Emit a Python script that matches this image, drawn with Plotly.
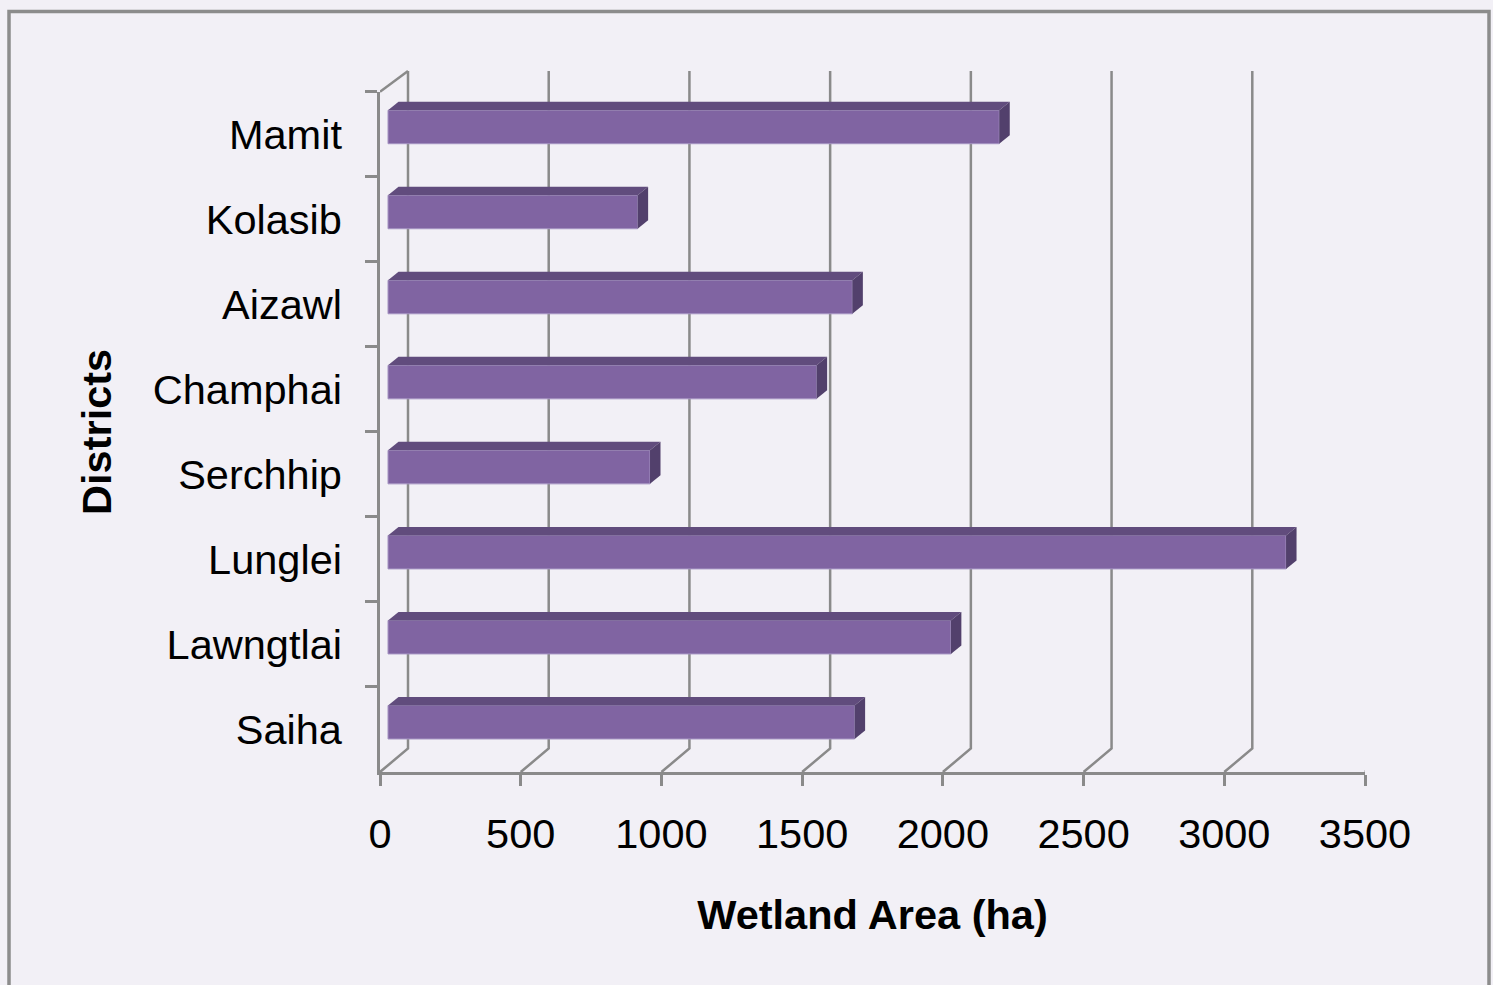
import plotly.graph_objects as go

# ---- data ----
districts = ["Mamit", "Kolasib", "Aizawl", "Champhai", "Serchhip", "Lunglei", "Lawngtlai", "Saiha"]
wetland_area = [2172, 887, 1650, 1523, 931, 3191, 2000, 1658]
x_ticks = [0, 500, 1000, 1500, 2000, 2500, 3000, 3500]
x_max = 3500

# ---- geometry / style ----
W, H = 1493, 985
L, R, T, B = 380, 128, 71, 213
plot_w = W - L - R
plot_h = H - T - B
px_per_unit = plot_w / x_max
front_top_px = 91.7
y_dom_top = (H - B - front_top_px) / plot_h

bar_shift_px = 8                 # bars sit a little behind the front plane
depth_dx, depth_dy = 10.5, 8.5   # bar 3-D depth
back_dx, back_dy = 28, 23.5      # back wall offset
face_top, face_bot = 24.0, -9.5  # front face extent (px, relative to category centre, up = +)
band_px = (H - B - front_top_px) / len(districts)

BAR = "#8064A2"
TOP = "#614C7D"
SIDE = "#52406C"
GRID = "#8A8A8A"
BG = "#F2F0F6"
FONT = "Liberation Sans, Arial, sans-serif"
FS = 41.5

fig = go.Figure()
fig.add_trace(go.Bar(
    y=districts, x=wetland_area, orientation="h",
    xaxis="x2", yaxis="y",
    marker=dict(color=BAR, line=dict(color="#A593C2", width=1)),
    width=(face_top - face_bot) / band_px,
    offset=-face_top / band_px,
    hoverinfo="x+y",
))

shapes = []
# back-wall gridlines with floor diagonals
for t in x_ticks:
    shapes.append(dict(
        type="path", layer="below", xref="x", xsizemode="pixel", xanchor=t,
        yref="paper", ysizemode="pixel", yanchor=0,
        path=f"M0,0 L{back_dx},{back_dy} L{back_dx},{plot_h}",
        line=dict(color=GRID, width=2.5), fillcolor="rgba(0,0,0,0)",
    ))
# top-left wall diagonal
shapes.append(dict(
    type="path", layer="below", xref="x", xsizemode="pixel", xanchor=0,
    yref="paper", ysizemode="pixel", yanchor=y_dom_top,
    path=f"M0,0 L{back_dx},{front_top_px - T}",
    line=dict(color=GRID, width=2.5), fillcolor="rgba(0,0,0,0)",
))

dxu = depth_dx / px_per_unit
for d, v in zip(districts, wetland_area):
    # top face
    shapes.append(dict(
        type="path", xref="x2", xsizemode="scaled", yref="y", ysizemode="pixel", yanchor=d,
        path=f"M0,{face_top} L{v},{face_top} L{v + dxu},{face_top + depth_dy} L{dxu},{face_top + depth_dy} Z",
        fillcolor=TOP, line=dict(width=0),
    ))
    # side face
    shapes.append(dict(
        type="path", xref="x2", xsizemode="pixel", xanchor=v, yref="y", ysizemode="pixel", yanchor=d,
        path=f"M0,{face_bot} L{depth_dx},{face_bot + depth_dy} L{depth_dx},{face_top + depth_dy} L0,{face_top} Z",
        fillcolor=SIDE, line=dict(width=0),
    ))

# outer chart border
shapes.append(dict(
    type="rect", xref="paper", yref="paper",
    x0=(9 - L) / plot_w, x1=(1489 - L) / plot_w,
    y0=(H - B - 1010) / plot_h, y1=(H - B - 11.5) / plot_h,
    line=dict(color="#8C8C8C", width=3.5), fillcolor="rgba(0,0,0,0)",
))

shift_units = bar_shift_px / px_per_unit
fig.update_layout(
    width=W, height=H,
    margin=dict(l=L, r=R, t=T, b=B, autoexpand=False),
    paper_bgcolor=BG, plot_bgcolor=BG,
    showlegend=False,
    font=dict(family=FONT, size=FS, color="#000000"),
    shapes=shapes,
    xaxis=dict(
        domain=[0, 1], anchor="y", range=[0, x_max],
        tickvals=x_ticks, ticks="outside", ticklen=11, tickwidth=2.5, tickcolor=GRID,
        showline=True, linecolor=GRID, linewidth=2.5, showgrid=False, zeroline=False,
        tickfont=dict(family=FONT, size=FS, color="#000000"),
        ticklabelstandoff=12,
        title=dict(text="Wetland Area (ha)", standoff=45,
                   font=dict(family=FONT, size=FS, color="#000000", weight="bold")),
    ),
    xaxis2=dict(
        overlaying="x", anchor="y", range=[-shift_units, x_max - shift_units],
        visible=False, showgrid=False, zeroline=False,
    ),
    yaxis=dict(
        domain=[0, y_dom_top], type="category",
        categoryorder="array", categoryarray=districts,
        range=[len(districts) - 0.5, -0.5],
        tickson="boundaries", ticks="outside", ticklen=12, tickwidth=2.5, tickcolor=GRID,
        showline=True, linecolor=GRID, linewidth=2.5, showgrid=False, zeroline=False,
        tickfont=dict(family=FONT, size=FS, color="#000000"),
        ticklabelstandoff=27,
        title=dict(text="Districts", standoff=29,
                   font=dict(family=FONT, size=FS, color="#000000", weight="bold")),
    ),
)

fig.write_html(
    "out.html",
    config={"displayModeBar": False},
    post_script="document.body.style.margin='0';document.body.style.overflow='hidden';",
)
